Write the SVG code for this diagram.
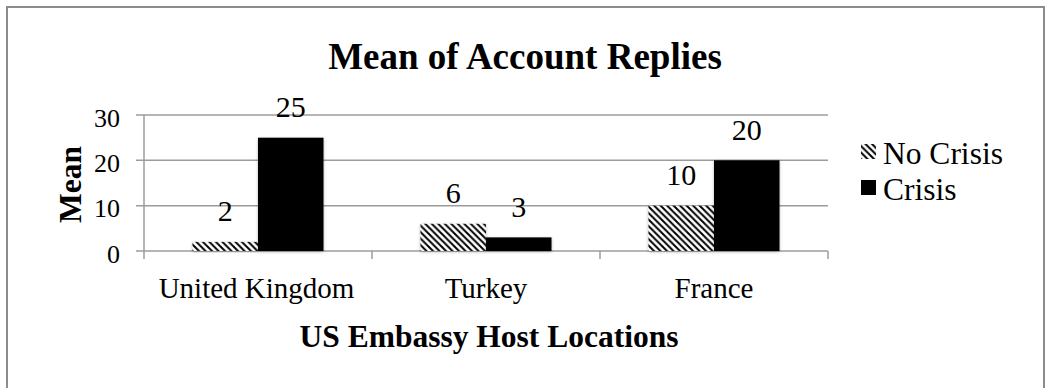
<svg xmlns="http://www.w3.org/2000/svg" width="1048" height="388" viewBox="0 0 1048 388">
  <style>
    text { font-family: "Liberation Serif", "Times New Roman", Times, "DejaVu Serif", serif; fill: #000; font-weight: normal; }
    .title { font-size: 37px; font-weight: bold; text-anchor: middle; }
    .axtitle { font-size: 31.5px; font-weight: bold; text-anchor: middle; }
    .tick { font-size: 26px; text-anchor: end; }
    .cat { font-size: 29px; text-anchor: middle; }
    .val { font-size: 30px; text-anchor: middle; }
    .leg { font-size: 31.5px; }
    .grid { stroke: #9c9c9c; stroke-width: 1.5; fill: none; }
    .nc { fill: url(#hatch); }
    .cr { fill: #000; }
  </style>
  <defs>
    <pattern id="hatch" patternUnits="userSpaceOnUse" width="6.5" height="6.5">
      <rect width="6.5" height="6.5" fill="#fff"/>
      <path d="M-1,-1 L7.5,7.5 M-1,5.5 L1,7.5 M5.5,-1 L7.5,1" stroke="#000" stroke-width="2"/>
    </pattern>
    <filter id="shadow" x="-20%" y="-20%" width="140%" height="140%">
      <feDropShadow dx="0" dy="1" stdDeviation="1.5" flood-color="#000" flood-opacity="0.3"/>
    </filter>
  </defs>

  <rect x="7" y="7" width="1037" height="400" fill="#fff" stroke="#8c8c8c" stroke-width="2"/>

  <text class="title" x="525" y="69">Mean of Account Replies</text>

  <g id="axes">
    <line class="grid" x1="136" y1="115" x2="828" y2="115"/>
    <line class="grid" x1="136" y1="160.3" x2="828" y2="160.3"/>
    <line class="grid" x1="136" y1="205.7" x2="828" y2="205.7"/>
    <line class="grid" x1="136" y1="251" x2="828" y2="251"/>
    <line class="grid" x1="144" y1="115" x2="144" y2="259"/>
    <line class="grid" x1="372" y1="251" x2="372" y2="259"/>
    <line class="grid" x1="600" y1="251" x2="600" y2="259"/>
    <line class="grid" x1="828" y1="251" x2="828" y2="259"/>
    <text class="tick" x="120" y="126.7">30</text>
    <text class="tick" x="120" y="172">20</text>
    <text class="tick" x="120" y="217.4">10</text>
    <text class="tick" x="120" y="262.7">0</text>
    <text class="axtitle" transform="translate(81,184.5) rotate(-90)">Mean</text>
    <text class="cat" x="256.5" y="298">United Kingdom</text>
    <text class="cat" x="486" y="298">Turkey</text>
    <text class="cat" x="714" y="298">France</text>
    <text class="axtitle" x="489" y="347">US Embassy Host Locations</text>
  </g>

  <g id="bar-uk-nocrisis">
    <rect class="nc" x="192.5" y="241.9" width="65.5" height="9.1" filter="url(#shadow)"/>
    <text class="val" x="225.25" y="221.4">2</text>
  </g>
  <g id="bar-uk-crisis">
    <rect class="cr" x="258" y="137.7" width="65.5" height="113.3" filter="url(#shadow)"/>
    <text class="val" x="290.75" y="117.2">25</text>
  </g>
  <g id="bar-turkey-nocrisis">
    <rect class="nc" x="420.5" y="223.8" width="65.5" height="27.2" filter="url(#shadow)"/>
    <text class="val" x="453.25" y="203.3">6</text>
  </g>
  <g id="bar-turkey-crisis">
    <rect class="cr" x="486" y="237.4" width="65.5" height="13.6" filter="url(#shadow)"/>
    <text class="val" x="518.75" y="216.9">3</text>
  </g>
  <g id="bar-france-nocrisis">
    <rect class="nc" x="648.5" y="205.7" width="65.5" height="45.3" filter="url(#shadow)"/>
    <text class="val" x="681.25" y="185.2">10</text>
  </g>
  <g id="bar-france-crisis">
    <rect class="cr" x="714" y="160.3" width="65.5" height="90.7" filter="url(#shadow)"/>
    <text class="val" x="746.75" y="139.8">20</text>
  </g>

  <g id="legend">
    <rect class="nc" x="861" y="144" width="15" height="15"/>
    <text class="leg" x="883" y="164">No Crisis</text>
    <rect class="cr" x="861" y="180" width="15" height="15"/>
    <text class="leg" x="883" y="200">Crisis</text>
  </g>
</svg>
